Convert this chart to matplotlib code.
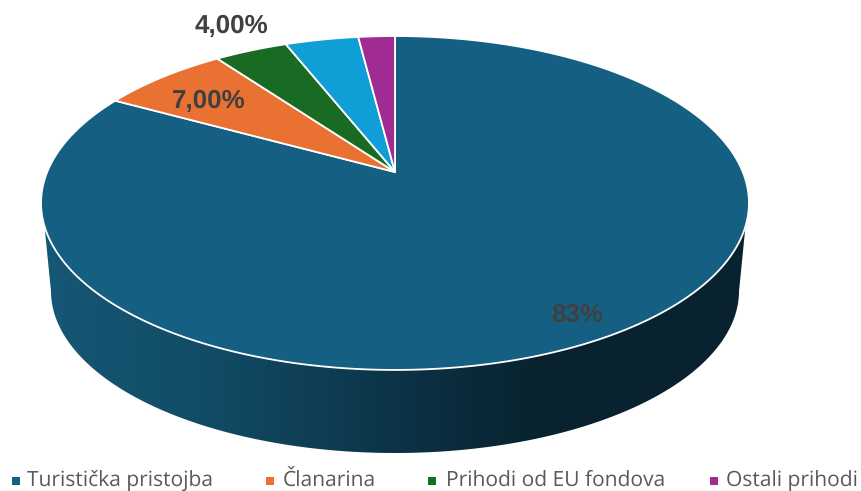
import numpy as np
import matplotlib
matplotlib.use("Agg")
import matplotlib.pyplot as plt
from matplotlib.patches import Polygon
from matplotlib.colors import to_rgb

# --- data ---
values = [83, 7, 4, 4, 2]
slice_colors = ["#156082", "#E97132", "#196B24", "#0F9ED5", "#A02B93"]
legend_names = ["Turistička pristojba", "Članarina", "Prihodi od EU fondova", "Ostali prihodi"]
legend_colors = ["#156082", "#E97132", "#196B24", "#A02B93"]
legend_marker_x = [16, 270, 432, 714]
legend_text_x = [27, 283, 446, 726]
value_labels = ["83%", "7,00%", "4,00%"]
value_label_pos = [(577, 315), (209, 101), (231, 26)]

# --- perspective geometry (pixel space) ---
CX, CY = 395.0, 172.0
K = 0.1856
A, B = 347.8, 161.2
SC, DROP = 0.972, 88.6


def top(t):
    d = 1 + K * np.sin(t)
    return CX + A * np.cos(t) / d, CY - B * np.sin(t) / d


def bottom(t):
    x, y = top(t)
    return CX + SC * (x - CX), CY + SC * (y - CY) + DROP


plt.rcParams["text.hinting"] = "none"
plt.rcParams["text.hinting_factor"] = 1
fig = plt.figure(figsize=(8.62, 4.91), dpi=100)
ax = fig.add_axes([0, 0, 1, 1])

# wall
tt = np.linspace(np.pi, 2 * np.pi, 1500)
xr, yr = top(tt)
xb, yb = bottom(tt)
m_r = yr >= 226
m_b = yb >= 291
poly_xy = np.r_[np.c_[xr[m_r], yr[m_r]], np.c_[xb[m_b], yb[m_b]][::-1]]
wall = Polygon(poly_xy, closed=True, fc="none", ec="none", transform=ax.transData)
ax.add_patch(wall)
stops_x = [40, 200, 300, 395, 470, 540, 760]
stops_c = ["#155875", "#124C67", "#0F4058", "#0C3347", "#0A2A3A", "#08232F", "#08232F"]
rgb = np.array([to_rgb(c) for c in stops_c])
gx = np.arange(30, 770)
grad = np.stack([np.interp(gx, stops_x, rgb[:, i]) for i in range(3)], axis=-1)[None, :, :]
im = ax.imshow(grad, extent=(30, 770, 460, 200), aspect="auto", interpolation="bilinear", zorder=1)
im.set_clip_path(wall)

# top wedges, clockwise from 12 o'clock
fractions = np.array(values) / np.sum(values)
edges = np.r_[0, np.cumsum(fractions)]
for i, c in enumerate(slice_colors):
    t = np.linspace(np.pi / 2 - 2 * np.pi * edges[i], np.pi / 2 - 2 * np.pi * edges[i + 1],
                    max(3, int(fractions[i] * 800)))
    x, y = top(t)
    pts = np.r_[[[CX, CY]], np.c_[x, y]]
    ax.add_patch(Polygon(pts, closed=True, fc=c, ec="white", lw=1.3, joinstyle="round", zorder=2))

# value labels
for s, (x, y) in zip(value_labels, value_label_pos):
    ax.text(x, y, s, ha="center", va="center", fontsize=18.5, fontweight="bold",
            family="Liberation Sans", color="#404040", zorder=3)

# legend
for name, c, mx, tx in zip(legend_names, legend_colors, legend_marker_x, legend_text_x):
    ax.plot([mx], [481], marker="s", ms=5.5, color=c, ls="none", mew=0, zorder=3)
    ax.text(tx, 480.5, name, ha="left", va="center", fontsize=15, family="Open Sans", color="#595959")

ax.set_xlim(0, 862)
ax.set_ylim(491, 0)
ax.axis("off")
fig.savefig("out.png", dpi=100, facecolor="white")
